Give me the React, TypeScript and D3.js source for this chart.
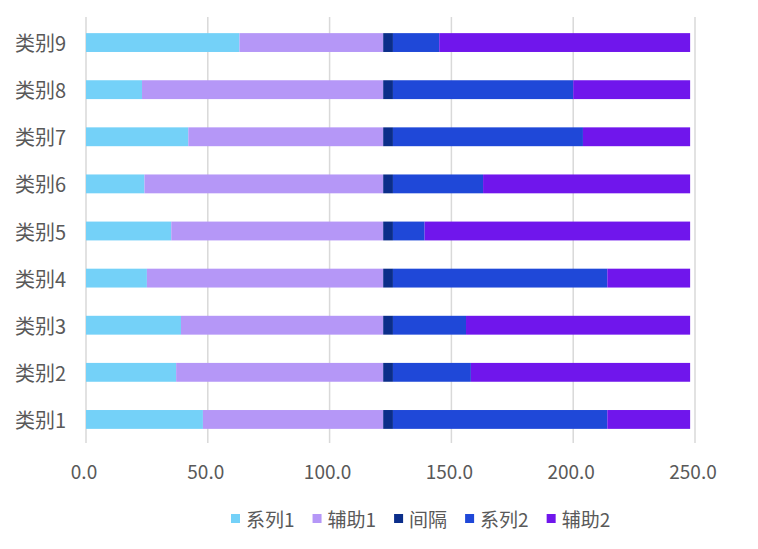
import * as d3 from "d3";
import React, { useEffect, useRef } from "react";

const categories = ["类别1", "类别2", "类别3", "类别4", "类别5", "类别6", "类别7", "类别8", "类别9"];
const series1 = [48, 37, 39, 25, 35, 24, 42, 23, 63];
const aux1 = [74, 85, 83, 97, 87, 98, 80, 99, 59];
const gap = [4, 4, 4, 4, 4, 4, 4, 4, 4];
const series2 = [88, 32, 30, 88, 13, 37, 78, 74, 19];
const aux2 = [34, 90, 92, 34, 109, 85, 44, 48, 103];
const xTicks = [0, 50, 100, 150, 200, 250];

const seriesNames = ["系列1", "辅助1", "间隔", "系列2", "辅助2"];
const seriesColors = ["#74D1F8", "#B597F7", "#0B2E8A", "#1F48D8", "#7016EC"];

const W = 758, H = 549;
const FONT = "'Noto Sans CJK SC', 'Noto Sans', sans-serif";
const TEXT = "#595959";

export default function App() {
  const ref = useRef<SVGSVGElement>(null);

  useEffect(() => {
    const svg = d3.select(ref.current);
    svg.selectAll("*").remove();

    const rows = categories.map((c, i) => ({
      cat: c,
      s0: series1[i], s1: aux1[i], s2: gap[i], s3: series2[i], s4: aux2[i],
    }));
    const keys = ["s0", "s1", "s2", "s3", "s4"];
    const stacked = d3.stack<any>().keys(keys)(rows);

    const x = d3.scaleLinear().domain([0, 250]).range([86, 695]);
    const y = d3.scaleBand<string>()
      .domain([...categories].reverse())
      .range([19, 443])
      .paddingInner(0.6)
      .paddingOuter(0.3);

    // gridlines
    svg.append("g").selectAll("line").data(xTicks).join("line")
      .attr("x1", d => x(d)).attr("x2", d => x(d))
      .attr("y1", 17).attr("y2", 443)
      .attr("stroke", "#D9D9D9").attr("stroke-width", 1.5);

    // bars
    svg.append("g").selectAll("g").data(stacked).join("g")
      .attr("fill", (_, i) => seriesColors[i])
      .selectAll("rect").data(d => d).join("rect")
      .attr("x", d => x(d[0]))
      .attr("width", d => x(d[1]) - x(d[0]))
      .attr("y", d => y(d.data.cat)!)
      .attr("height", y.bandwidth());

    // category labels
    svg.append("g").selectAll("text").data(categories).join("text")
      .attr("x", 66).attr("y", d => y(d)! + y.bandwidth() / 2)
      .attr("text-anchor", "end").attr("dominant-baseline", "central")
      .attr("font-family", FONT).attr("font-size", 20).attr("fill", TEXT)
      .text(d => d);

    // x tick labels
    svg.append("g").selectAll("text").data(xTicks).join("text")
      .attr("x", d => x(d) - 2).attr("y", 470)
      .attr("text-anchor", "middle").attr("dominant-baseline", "central")
      .attr("font-family", FONT).attr("font-size", 19).attr("fill", TEXT)
      .text(d => d3.format(".1f")(d));

    // legend
    const legend = svg.append("g");
    let cx = 231;
    seriesNames.forEach((name, i) => {
      legend.append("rect").attr("x", cx).attr("y", 514).attr("width", 9).attr("height", 9)
        .attr("fill", seriesColors[i]);
      const t = legend.append("text").attr("x", cx + 15).attr("y", 518.5)
        .attr("dominant-baseline", "central")
        .attr("font-family", FONT).attr("font-size", 19).attr("fill", TEXT)
        .text(name);
      const w = (t.node() as SVGTextElement).getComputedTextLength();
      cx += 15 + w + 18;
    });
  }, []);

  return (
    <svg ref={ref} width={W} height={H}
      style={{ position: "absolute", left: 0, top: 0, background: "#fff" }} />
  );
}
